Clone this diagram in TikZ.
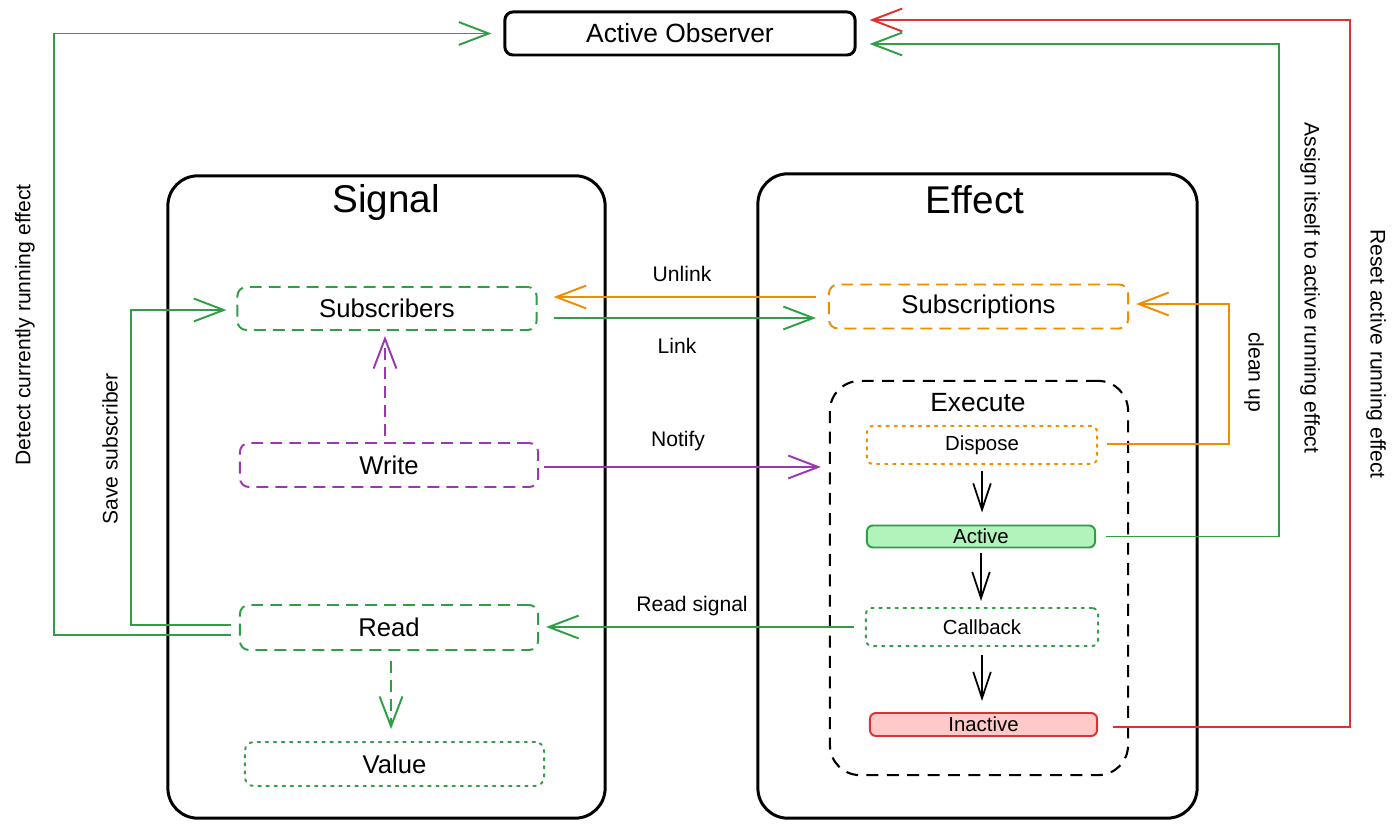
\documentclass[tikz,border=0pt]{standalone}
\usepackage{fontspec}
\setmainfont{Liberation Sans}
\usetikzlibrary{arrows.meta}
\definecolor{cgreen}{HTML}{2F9E44}
\definecolor{corange}{HTML}{F08C00}
\definecolor{cpurple}{HTML}{9C36B5}
\definecolor{cred}{HTML}{E03131}
\definecolor{fgreen}{HTML}{B2F2BB}
\definecolor{fred}{HTML}{FFC9C9}
\tikzset{
  bigbox/.style={draw=black, line width=0.85pt, rounded corners=0.3cm, inner sep=0pt},
  obsbox/.style={draw=black, line width=0.85pt, rounded corners=0.08cm, inner sep=0pt,
    minimum width=3.5cm, minimum height=0.43cm, font=\fontsize{7.5}{9}\selectfont},
  title/.style={font=\fontsize{11}{13}\selectfont, inner sep=0pt},
  item/.style={rounded corners=0.09cm, inner sep=0pt, line width=0.55pt,
    font=\fontsize{7.3}{9}\selectfont},
  small/.style={rounded corners=0.06cm, inner sep=0pt, line width=0.55pt,
    font=\fontsize{5.8}{7}\selectfont},
  dsh/.style={dash pattern=on 3.4pt off 2pt},
  dot/.style={dash pattern=on 0.7pt off 1.6pt, line cap=round},
  lab/.style={font=\fontsize{6}{7}\selectfont, inner sep=0pt},
  conn/.style={line width=0.55pt, -{Straight Barb[length=8.5pt,width=6.5pt]}},
  kconn/.style={line width=0.5pt, -{Straight Barb[length=7.5pt,width=5pt]}},
}
\begin{document}
\begin{tikzpicture}[x=0.01cm, y=-0.01cm]
\useasboundingbox[fill=white] (0,0) rectangle (1400,834);

% containers
\node[bigbox, minimum width=4.37cm, minimum height=6.42cm] (sig) at (386.5,497) {};
\node[bigbox, minimum width=4.39cm, minimum height=6.44cm] (eff) at (977.5,496) {};
\node[title] (sigt) at (386,203) {Signal};
\node[title] (efft) at (975,200) {Effect};

\node[obsbox] (obs) at (680,33.5) {Active Observer};

% signal items
\node[item, draw=cgreen, dsh, minimum width=2.99cm, minimum height=0.43cm] (subs) at (387,308.5) {Subscribers};
\node[item, draw=cpurple, dsh, minimum width=2.98cm, minimum height=0.44cm] (write) at (389,465) {Write};
\node[item, draw=cgreen, dsh, minimum width=2.98cm, minimum height=0.45cm] (read) at (389,627.5) {Read};
\node[item, draw=cgreen, dot, minimum width=2.99cm, minimum height=0.44cm] (value) at (394.5,764) {Value};

% effect items
\node[item, draw=corange, dsh, minimum width=2.99cm, minimum height=0.44cm] (subn) at (978.5,306.5) {Subscriptions};
\node[draw=black, line width=0.6pt, dash pattern=on 3.4pt off 2.4pt, rounded corners=0.3cm,
  minimum width=2.98cm, minimum height=3.94cm, inner sep=0pt] (exec) at (979,578) {};
\node[font=\fontsize{7.5}{9}\selectfont, inner sep=0pt] (exect) at (978,403) {Execute};
\node[small, draw=corange, dot, minimum width=2.30cm, minimum height=0.38cm] (disp) at (982,445) {Dispose};
\node[small, draw=cgreen, fill=fgreen, minimum width=2.28cm, minimum height=0.22cm] (act) at (981,536.5) {Active};
\node[small, draw=cgreen, dot, minimum width=2.32cm, minimum height=0.38cm] (cb) at (982,627) {Callback};
\node[small, draw=cred, fill=fred, minimum width=2.27cm, minimum height=0.23cm] (inact) at (983.5,724.5) {Inactive};

% execute chain
\draw[kconn, shorten <=0.06cm, shorten >=0.12cm] (disp.south) -- (disp.south |- act.north);
\draw[kconn, shorten <=0.05cm, shorten >=0.06cm] (act.south) -- (act.south |- cb.north);
\draw[kconn, shorten <=0.08cm, shorten >=0.11cm] (cb.south) -- (cb.south |- inact.north);

% signal internal
\draw[conn, cpurple, dsh, shorten <=0.06cm, shorten >=0.05cm] ([xshift=-0.04cm]write.north) -- ([xshift=-0.04cm]write.north |- subs.south);
\draw[conn, cgreen, dsh, shorten <=0.10cm, shorten >=0.12cm] ([xshift=0.02cm]read.south) -- ([xshift=0.02cm]read.south |- value.north);

% between containers
\draw[conn, corange, shorten <=0.12cm, shorten >=0.16cm] ([yshift=0.095cm]subn.west) -- ([yshift=0.095cm]subn.west -| subs.east);
\draw[conn, cgreen, shorten <=0.16cm, shorten >=0.12cm] ([yshift=-0.115cm]subn.west -| subs.east) -- ([yshift=-0.115cm]subn.west);
\draw[conn, cpurple, shorten <=0.05cm, shorten >=0.08cm] ([yshift=-0.02cm]write.east) -- ([yshift=-0.02cm]write.east -| exec.west);
\draw[conn, cgreen, shorten <=0.11cm, shorten >=0.07cm] (cb.west) -- (cb.west -| read.east);

\node[lab] (lunlink) at (682,274) {Unlink};
\node[lab] (llink) at (677,346) {Link};
\node[lab] (lnotify) at (678,441) {Notify};
\node[lab] (lread) at (692,606) {Read signal};

% right side loops
\draw[conn, corange, shorten <=0.09cm, shorten >=0.07cm] ([yshift=0.01cm]disp.east) -- ++(131,0) |- ([yshift=0.025cm]subn.east);
\draw[conn, cgreen, shorten <=0.10cm, shorten >=0.13cm] (act.east) -- ++(183,0) |- ([yshift=-0.105cm]obs.east);
\draw[conn, cred, shorten <=0.15cm, shorten >=0.13cm] ([yshift=-0.025cm]inact.east) -- ++(252,0) |- ([yshift=0.135cm]obs.east);

\node[lab, rotate=-90] (lclean) at (1254,372) {clean up};
\node[lab, rotate=-90] (lassign) at (1310,288) {Assign itself to active running effect};
\node[lab, rotate=-90] (lreset) at (1376,354) {Reset active running effect};

% left side loops
\draw[conn, cgreen, shorten <=0.08cm, shorten >=0.12cm] ([yshift=-0.075cm]read.west) -- ++(-185,0) |- (obs.west);
\draw[conn, cgreen, shorten <=0.08cm, shorten >=0.10cm] ([yshift=0.025cm]read.west) -- ++(-108,0) |- ([yshift=-0.015cm]subs.west);

\node[lab, rotate=90] (ldetect) at (25,325) {Detect currently running effect};
\node[lab, rotate=90] (lsave) at (110,449) {Save subscriber};
\end{tikzpicture}
\end{document}
